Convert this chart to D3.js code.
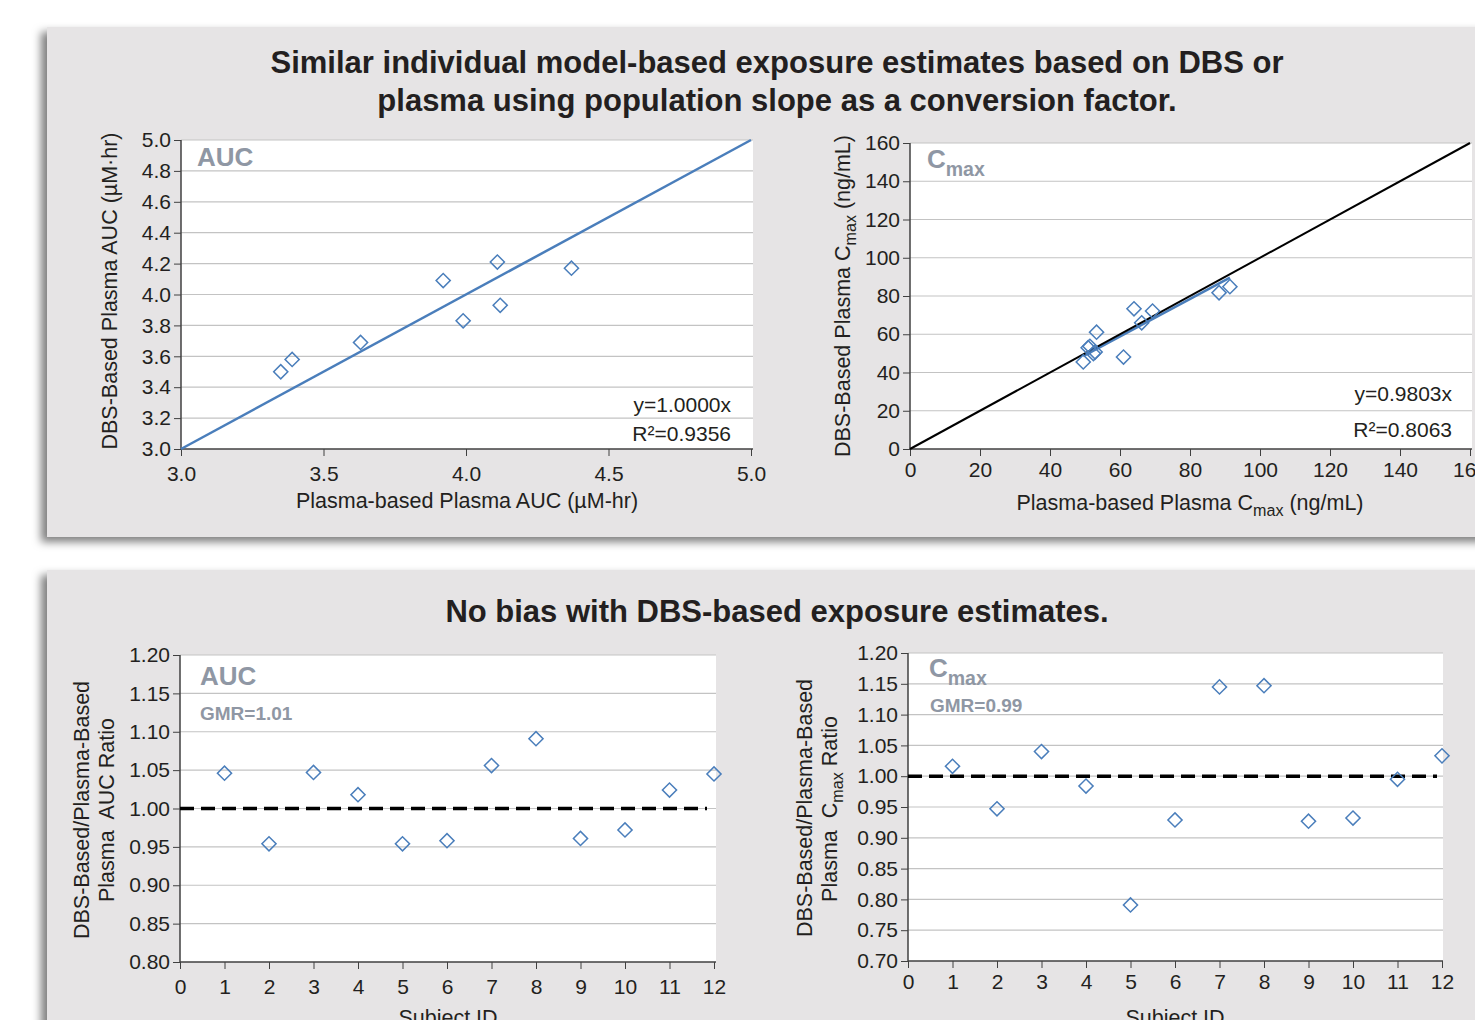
<!DOCTYPE html>
<html lang="en">
<head>
<meta charset="UTF-8">
<title>DBS vs plasma exposure</title>
<script src="https://d3js.org/d3.v7.min.js"></script>
<style>
  body { margin: 0; background: #fff; }
  svg { display: block; font-family: "Liberation Sans", Arial, sans-serif; }
  text { white-space: pre; }
  .tick text { font-size: 21px; fill: #231f20; }
  .tick line { stroke: #404040; }
  .domain { stroke: #404040; stroke-width: 1.5; }
  .grid line { stroke: #c3c3c3; stroke-width: 1.2; }
</style>
</head>
<body>
<svg width="1475" height="1020"></svg>
<script>
// top-left: AUC (plasma-based vs DBS-based)
const aucPlasma = [3.35, 3.39, 3.63, 3.92, 3.99, 4.11, 4.12, 4.37];
const aucDbs    = [3.50, 3.58, 3.69, 4.09, 3.83, 4.21, 3.93, 4.17];
const aucSlope = 1.0000;

// top-right: Cmax
const cmaxPlasma = [49.5, 50.9, 51.4, 52.4, 52.9, 53.3, 61.0, 64.0, 66.2, 69.3, 88.3, 91.4];
const cmaxDbs    = [45.5, 53.0, 53.7, 49.9, 50.7, 61.1, 48.1, 73.3, 66.0, 72.1, 81.7, 84.9];
const cmaxSlope = 0.9803;

// bottom: ratios by subject
const subjects  = [1, 2, 3, 4, 5, 6, 7, 8, 9, 10, 11, 12];
const aucRatio  = [1.046, 0.954, 1.047, 1.018, 0.954, 0.958, 1.056, 1.091, 0.961, 0.972, 1.024, 1.045];
const cmaxRatio = [1.016, 0.947, 1.040, 0.984, 0.791, 0.929, 1.145, 1.147, 0.927, 0.932, 0.995, 1.033];

const aucTicksY = [3.0, 3.2, 3.4, 3.6, 3.8, 4.0, 4.2, 4.4, 4.6, 4.8, 5.0];
const aucTicksX = [3.0, 3.5, 4.0, 4.5, 5.0];
const cmaxTicks = [0, 20, 40, 60, 80, 100, 120, 140, 160];
const aucRatioTicks  = [0.80, 0.85, 0.90, 0.95, 1.00, 1.05, 1.10, 1.15, 1.20];
const cmaxRatioTicks = [0.70, 0.75, 0.80, 0.85, 0.90, 0.95, 1.00, 1.05, 1.10, 1.15, 1.20];
const subjectTicks = [0, 1, 2, 3, 4, 5, 6, 7, 8, 9, 10, 11, 12];

const blue = "#4a7ebb", grey = "#8f97a4", ink = "#231f20";
const svg = d3.select("svg");

const defs = svg.append("defs");
const f = defs.append("filter").attr("id", "sh")
  .attr("x", "-5%").attr("y", "-5%").attr("width", "110%").attr("height", "115%");
f.append("feDropShadow").attr("dx", -6).attr("dy", 5).attr("stdDeviation", 4)
  .attr("flood-color", "#000").attr("flood-opacity", 0.5);

// panels
svg.append("rect").attr("x", 47).attr("y", 27).attr("width", 1460).attr("height", 510)
  .attr("fill", "#e6e4e5").attr("filter", "url(#sh)");
svg.append("rect").attr("x", 47).attr("y", 570).attr("width", 1460).attr("height", 480)
  .attr("fill", "#e6e4e5").attr("filter", "url(#sh)");

function title(lines, y0) {
  lines.forEach((t, i) => svg.append("text").attr("x", 777).attr("y", y0 + i * 38)
    .attr("text-anchor", "middle").attr("font-size", 31).attr("font-weight", "bold")
    .attr("fill", ink).text(t));
}
title(["Similar individual model-based exposure estimates based on DBS or",
       "plasma using population slope as a conversion factor."], 73);
title(["No bias with DBS-based exposure estimates."], 622);

// helper: text with "max" subscript parts, parts = [[text, isSub], ...]
function richText(sel, parts, size) {
  parts.forEach(([t, sub]) => {
    const ts = sel.append("tspan").text(t);
    if (sub) ts.attr("font-size", size * 0.75).attr("dy", size * 0.3);
    else ts.attr("dy", sel.node().childNodes.length > 1 ? -size * 0.3 : 0);
  });
  return sel;
}

function frame(o) {
  const x = d3.scaleLinear().domain(o.xd).range([o.l, o.r]);
  const y = d3.scaleLinear().domain(o.yd).range([o.b, o.t]);
  const g = svg.append("g");
  g.append("rect").attr("x", o.l).attr("y", o.t).attr("width", o.pr - o.l).attr("height", o.b - o.t)
    .attr("fill", "#fff");
  g.append("g").attr("class", "grid").selectAll("line")
    .data(o.yt.filter(v => v !== o.yd[0])).join("line")
    .attr("x1", o.l).attr("x2", o.pr).attr("y1", d => y(d)).attr("y2", d => y(d));

  const ya = g.append("g").attr("transform", `translate(${o.l},0)`)
    .call(d3.axisLeft(y).tickValues(o.yt).tickFormat(d3.format(o.yf)).tickSize(7).tickSizeOuter(0).tickPadding(3));
  const xa = g.append("g").attr("transform", `translate(0,${o.b})`)
    .call(d3.axisBottom(x).tickValues(o.xt).tickFormat(d3.format(o.xf)).tickSize(7).tickSizeOuter(0).tickPadding(o.xpad || 6));
  ya.select(".domain").attr("d", `M0,${o.b}V${o.t}`);
  xa.select(".domain").attr("d", `M${o.l},0H${o.pr}`);
  return { g, x, y };
}

function diamonds(c, xs, ys) {
  c.g.append("g").selectAll("path").data(xs).join("path")
    .attr("d", d3.symbol(d3.symbolSquare, 100))
    .attr("transform", (d, i) => `translate(${c.x(d)},${c.y(ys[i])}) rotate(45)`)
    .attr("fill", "none").attr("stroke", blue).attr("stroke-width", 1.5);
}

function label(c, x, y, parts, size, opts = {}) {
  const t = c.g.append("text").attr("x", x).attr("y", y).attr("font-size", size)
    .attr("fill", opts.fill || ink).attr("font-weight", opts.bold ? "bold" : null)
    .attr("text-anchor", opts.anchor || "start");
  if (opts.rotate) t.attr("transform", `rotate(-90,${x},${y})`);
  return richText(t, parts, size);
}

// ---- top-left AUC
const c1 = frame({ l: 181, r: 751, pr: 753, t: 140, b: 449, xd: [3, 5], yd: [3, 5],
  xt: aucTicksX, yt: aucTicksY, xf: ".1f", yf: ".1f", xpad: 10 });
c1.g.append("line").attr("x1", c1.x(3)).attr("y1", c1.y(3 * aucSlope))
  .attr("x2", c1.x(5)).attr("y2", c1.y(5 * aucSlope))
  .attr("stroke", blue).attr("stroke-width", 2.5);
diamonds(c1, aucPlasma, aucDbs);
label(c1, 197, 166, [["AUC"]], 26, { fill: grey, bold: true });
label(c1, 731, 412, [["y=1.0000x"]], 21, { anchor: "end" });
label(c1, 731, 441, [["R²=0.9356"]], 21, { anchor: "end" });
label(c1, 467, 508, [["Plasma-based Plasma AUC (µM-hr)"]], 21.5, { anchor: "middle" });
label(c1, 117, 291, [["DBS-Based Plasma AUC (µM·hr)"]], 21.5, { anchor: "middle", rotate: true });

// ---- top-right Cmax
const c2 = frame({ l: 910, r: 1470, pr: 1472, t: 143, b: 449, xd: [0, 160], yd: [0, 160],
  xt: cmaxTicks, yt: cmaxTicks, xf: "d", yf: "d", xpad: 6 });
const cx0 = d3.min(cmaxPlasma), cx1 = d3.max(cmaxPlasma);
c2.g.append("line").attr("x1", c2.x(cx0)).attr("y1", c2.y(cx0 * cmaxSlope))
  .attr("x2", c2.x(cx1)).attr("y2", c2.y(cx1 * cmaxSlope))
  .attr("stroke", blue).attr("stroke-width", 2.5);
c2.g.append("line").attr("x1", c2.x(0)).attr("y1", c2.y(0))
  .attr("x2", c2.x(160)).attr("y2", c2.y(160))
  .attr("stroke", "#000").attr("stroke-width", 2);
diamonds(c2, cmaxPlasma, cmaxDbs);
label(c2, 927, 168, [["C"], ["max", true]], 26, { fill: grey, bold: true });
label(c2, 1452, 401, [["y=0.9803x"]], 21, { anchor: "end" });
label(c2, 1452, 437, [["R²=0.8063"]], 21, { anchor: "end" });
label(c2, 1190, 510, [["Plasma-based Plasma C"], ["max", true], [" (ng/mL)"]], 21.5, { anchor: "middle" });
label(c2, 850, 296, [["DBS-Based Plasma C"], ["max", true], [" (ng/mL)"]], 21.5, { anchor: "middle", rotate: true });

// ---- bottom-left AUC ratio
const c3 = frame({ l: 180, r: 714, pr: 716, t: 655, b: 962, xd: [0, 12], yd: [0.8, 1.2],
  xt: subjectTicks, yt: aucRatioTicks, xf: "d", yf: ".2f", xpad: 10 });
c3.g.append("line").attr("x1", c3.x(0)).attr("x2", 707).attr("y1", c3.y(1)).attr("y2", c3.y(1))
  .attr("stroke", "#000").attr("stroke-width", 3.5).attr("stroke-dasharray", "14,7");
diamonds(c3, subjects, aucRatio);
label(c3, 200, 685, [["AUC"]], 26, { fill: grey, bold: true });
label(c3, 200, 720, [["GMR=1.01"]], 19, { fill: grey, bold: true });
label(c3, 448, 1025, [["Subject ID"]], 21.5, { anchor: "middle" });
label(c3, 89, 810, [["DBS-Based/Plasma-Based"]], 21.5, { anchor: "middle", rotate: true });
label(c3, 114, 810, [["Plasma  AUC Ratio"]], 21.5, { anchor: "middle", rotate: true });

// ---- bottom-right Cmax ratio
const c4 = frame({ l: 908, r: 1442, pr: 1443, t: 653, b: 961, xd: [0, 12], yd: [0.7, 1.2],
  xt: subjectTicks, yt: cmaxRatioTicks, xf: "d", yf: ".2f", xpad: 6 });
c4.g.append("line").attr("x1", c4.x(0)).attr("x2", 1437).attr("y1", c4.y(1)).attr("y2", c4.y(1))
  .attr("stroke", "#000").attr("stroke-width", 3.5).attr("stroke-dasharray", "14,7");
diamonds(c4, subjects, cmaxRatio);
label(c4, 929, 677, [["C"], ["max", true]], 26, { fill: grey, bold: true });
label(c4, 930, 712, [["GMR=0.99"]], 19, { fill: grey, bold: true });
label(c4, 1175, 1025, [["Subject ID"]], 21.5, { anchor: "middle" });
label(c4, 812, 808, [["DBS-Based/Plasma-Based"]], 21.5, { anchor: "middle", rotate: true });
label(c4, 837, 809, [["Plasma  C"], ["max", true], [" Ratio"]], 21.5, { anchor: "middle", rotate: true });
</script>
</body>
</html>
